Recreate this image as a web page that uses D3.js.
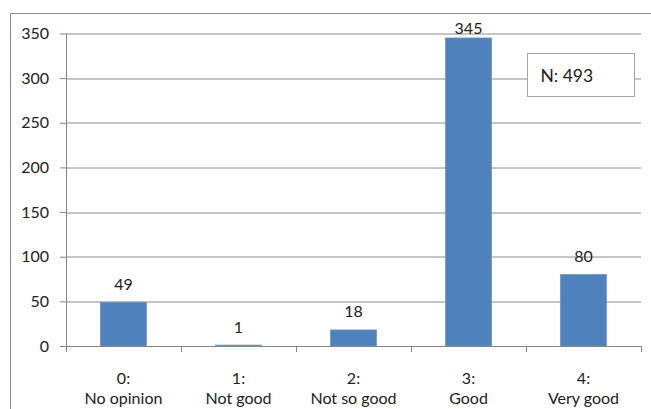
<!DOCTYPE html>
<html>
<head>
<meta charset="utf-8">
<script src="https://cdn.jsdelivr.net/npm/d3@7"></script>
<style>
  body { margin: 0; background: #fff; }
  svg text { font-family: Lato, "Open Sans", sans-serif; fill: #222; }
</style>
</head>
<body>
<div id="chart"></div>
<script>
// data
var codes = ["0:", "1:", "2:", "3:", "4:"];
var labels = ["No opinion", "Not good", "Not so good", "Good", "Very good"];
var counts = [49, 1, 18, 345, 80];
var yTicks = [0, 50, 100, 150, 200, 250, 300, 350];
var total = 493;

var WIDTH = 651, HEIGHT = 409;
var margin = { left: 66, right: 10, top: 33.5, bottom: 63 };
var width = 641 - margin.left;
var height = 346 - margin.top;
var FONT = "16px";

var svg = d3.select("#chart").append("svg")
    .attr("width", WIDTH)
    .attr("height", HEIGHT);

// outer chart frame (cropped at right and bottom)
svg.append("path")
    .attr("d", "M10.5,409 L10.5,13.5 L651,13.5")
    .attr("fill", "none")
    .attr("stroke", "#8c8c8c")
    .attr("stroke-width", 1);

var g = svg.append("g")
    .attr("transform", "translate(" + margin.left + "," + margin.top + ")");

var x = d3.scaleBand()
    .domain(codes)
    .range([0, width])
    .paddingInner(0.6)
    .paddingOuter(0.3);

var y = d3.scaleLinear()
    .domain([0, 350])
    .range([height, 0]);

// gridlines
g.selectAll(".grid")
    .data(yTicks.filter(function(d) { return d > 0; }))
    .enter().append("line")
    .attr("class", "grid")
    .attr("x1", 0)
    .attr("x2", width)
    .attr("y1", function(d) { return Math.round(y(d)) + 0.5; })
    .attr("y2", function(d) { return Math.round(y(d)) + 0.5; })
    .attr("stroke", "#8c8c8c");

// bars
g.selectAll(".bar")
    .data(counts)
    .enter().append("rect")
    .attr("class", "bar")
    .attr("x", function(d, i) { return x(codes[i]); })
    .attr("width", x.bandwidth())
    .attr("y", function(d) { return y(d); })
    .attr("height", function(d) { return height - y(d); })
    .attr("fill", "#4f81bd")
    .attr("stroke", "#6d97c9")
    .attr("stroke-width", 0.8);

// value labels (kept inside the plot top, like the original)
g.selectAll(".val")
    .data(counts)
    .enter().append("text")
    .attr("class", "val")
    .attr("x", function(d, i) { return x(codes[i]) + x.bandwidth() / 2; })
    .attr("y", function(d) { return Math.max(y(d) - 12.5, 0.5); })
    .attr("text-anchor", "middle")
    .style("font-size", FONT)
    .text(function(d) { return d; });

// y axis
var yAxis = d3.axisLeft(y)
    .tickValues(yTicks)
    .tickSize(6)
    .tickPadding(11);
var ya = g.append("g").attr("class", "y-axis").call(yAxis);
ya.select(".domain").attr("stroke", "#868686").attr("d", "M0.5,0V" + height);
ya.selectAll(".tick line").attr("stroke", "#868686");
ya.selectAll(".tick text").style("font-size", FONT).attr("fill", "#222");

// x axis with boundary ticks between categories
var xa = g.append("g")
    .attr("class", "x-axis")
    .attr("transform", "translate(0," + height + ")");
xa.append("line")
    .attr("x1", 0).attr("x2", width)
    .attr("y1", 0.5).attr("y2", 0.5)
    .attr("stroke", "#868686");
var bounds = d3.range(codes.length + 1).map(function(i) { return i * x.step(); });
xa.selectAll(".xt")
    .data(bounds)
    .enter().append("line")
    .attr("x1", function(d) { return Math.round(d) + 0.5; })
    .attr("x2", function(d) { return Math.round(d) + 0.5; })
    .attr("y1", 0).attr("y2", 6)
    .attr("stroke", "#868686");

// two-line category labels: code on top, name below
xa.selectAll(".xc")
    .data(codes)
    .enter().append("text")
    .attr("class", "xc")
    .attr("text-anchor", "middle")
    .attr("x", function(d) { return x(d) + x.bandwidth() / 2; })
    .attr("y", 38)
    .style("font-size", FONT)
    .text(function(d) { return d; });
xa.selectAll(".xn")
    .data(codes)
    .enter().append("text")
    .attr("class", "xn")
    .attr("text-anchor", "middle")
    .attr("x", function(d) { return x(d) + x.bandwidth() / 2; })
    .attr("y", 57.5)
    .style("font-size", FONT)
    .text(function(d, i) { return labels[i]; });

// N box
var nBox = svg.append("g").attr("transform", "translate(527.5,53.5)");
nBox.append("rect")
    .attr("width", 107)
    .attr("height", 43)
    .attr("fill", "#fff")
    .attr("stroke", "#a6a6a6");
nBox.append("text")
    .attr("x", 13)
    .attr("y", 28)
    .style("font-size", "17.5px")
    .text("N: " + total);
</script>
</body>
</html>
